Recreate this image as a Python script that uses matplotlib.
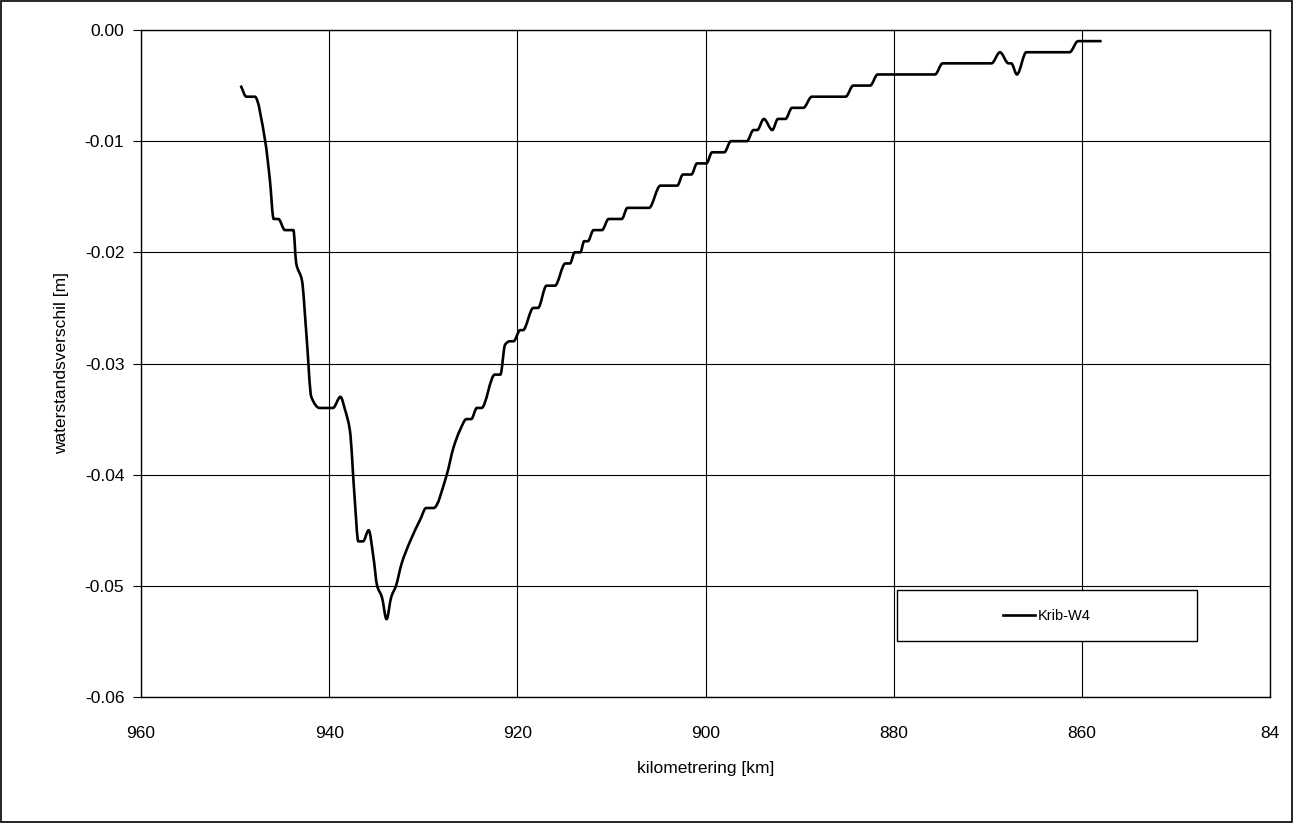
import matplotlib
matplotlib.use("Agg")
import matplotlib.pyplot as plt
import numpy as np
from matplotlib.lines import Line2D
from matplotlib.patches import Rectangle, PathPatch
from matplotlib.path import Path

plt.rcParams['font.family'] = ['Liberation Sans', 'DejaVu Sans']
plt.rcParams['axes.unicode_minus'] = False

# water level difference along the river (km, m)
km = [949.4, 948.8, 947.9, 946.8, 946.3, 945.9, 945.4, 944.7, 943.8, 943.5,
      942.9, 942.4, 941.9, 941.0, 939.6, 938.8, 938.3, 937.8, 937.3, 936.9,
      936.4, 935.8, 935.3, 934.9, 934.4, 933.9, 933.4, 932.9, 932.3, 931.4,
      930.3, 929.7, 928.9, 927.5, 926.8, 926.1, 925.4, 924.9, 924.3, 923.8,
      922.4, 921.8, 921.3, 920.8, 920.4, 919.7, 919.4, 918.3, 917.8, 916.9,
      916.0, 914.9, 914.4, 913.9, 913.3, 912.9, 912.5, 911.9, 911.0, 910.3,
      908.9, 908.3, 906.0, 904.8, 903.0, 902.4, 901.5, 900.9, 899.9, 899.3,
      898.0, 897.3, 895.6, 894.9, 894.5, 893.8, 892.9, 892.3, 891.5, 890.8,
      889.6, 888.7, 885.1, 884.3, 882.5, 881.7, 875.6, 874.8, 869.6, 868.7,
      867.8, 867.5, 866.9, 865.9, 861.3, 860.4, 857.9]
dh = [-0.005, -0.006, -0.006, -0.010, -0.0135, -0.017, -0.017, -0.018, -0.018, -0.021,
      -0.0225, -0.0276, -0.033, -0.034, -0.034, -0.033, -0.0342, -0.036, -0.042, -0.046,
      -0.046, -0.045, -0.0474, -0.050, -0.051, -0.053, -0.051, -0.050, -0.048, -0.046,
      -0.044, -0.043, -0.043, -0.040, -0.0376, -0.036, -0.035, -0.035, -0.034, -0.034,
      -0.031, -0.031, -0.0283, -0.028, -0.028, -0.027, -0.027, -0.025, -0.025, -0.023,
      -0.023, -0.021, -0.021, -0.020, -0.020, -0.019, -0.019, -0.018, -0.018, -0.017,
      -0.017, -0.016, -0.016, -0.014, -0.014, -0.013, -0.013, -0.012, -0.012, -0.011,
      -0.011, -0.010, -0.010, -0.009, -0.009, -0.008, -0.009, -0.008, -0.008, -0.007,
      -0.007, -0.006, -0.006, -0.005, -0.005, -0.004, -0.004, -0.003, -0.003, -0.002,
      -0.003, -0.003, -0.004, -0.002, -0.002, -0.001, -0.001]
series_name = 'Krib-W4'

xticks = [960, 940, 920, 900, 880, 860, 840]
xticklabels = ['960', '940', '920', '900', '880', '860', '84']
yticks = [-0.06, -0.05, -0.04, -0.03, -0.02, -0.01, 0.00]


def smooth_path(x, y):
    # monotone cubic (Fritsch-Carlson slopes) drawn as bezier segments,
    # keeps the flat stretches flat
    x = np.asarray(x, float)
    y = np.asarray(y, float)
    h = np.diff(x)
    d = np.diff(y) / h
    m = np.zeros_like(y)
    m[0], m[-1] = d[0], d[-1]
    for k in range(1, len(y) - 1):
        if d[k - 1] * d[k] > 0:
            w1 = 2 * h[k] + h[k - 1]
            w2 = h[k] + 2 * h[k - 1]
            m[k] = (w1 + w2) / (w1 / d[k - 1] + w2 / d[k])
    verts = [(x[0], y[0])]
    codes = [Path.MOVETO]
    for i in range(len(x) - 1):
        verts += [(x[i] + h[i] / 3, y[i] + m[i] * h[i] / 3),
                  (x[i + 1] - h[i] / 3, y[i + 1] - m[i + 1] * h[i] / 3),
                  (x[i + 1], y[i + 1])]
        codes += [Path.CURVE4] * 3
    return Path(verts, codes)


fig = plt.figure(figsize=(12.93, 8.23), dpi=100)
ax = fig.add_axes([141 / 1293, 126 / 823, 1129 / 1293, 667 / 823])

ax.add_patch(PathPatch(smooth_path(km, dh), facecolor='none', edgecolor='black',
                       lw=1.9, joinstyle='round', zorder=3))

ax.set_xlim(960, 840)
ax.set_ylim(-0.06, 0.0)
ax.set_xticks(xticks)
ax.set_xticklabels(xticklabels)
ax.set_yticks(yticks)
ax.set_yticklabels([f'{v:.2f}' for v in yticks])
ax.grid(True, color='black', lw=0.8)
ax.set_axisbelow(True)
for s in ax.spines.values():
    s.set_linewidth(1.0)
ax.tick_params(axis='y', direction='out', length=6, width=0.8, labelsize=12.5, pad=6)
ax.tick_params(axis='x', length=0, labelsize=12.5, pad=21)

ax.set_xlabel('kilometrering [km]', fontsize=12.5, labelpad=14)
ax.set_ylabel('waterstandsverschil [m]', fontsize=12.5, labelpad=11)

# legend box
ax.add_patch(Rectangle((0.670, 0.084), 0.265, 0.076, transform=ax.transAxes,
                       facecolor='white', edgecolor='black', lw=1.0, zorder=4))
ax.legend(handles=[Line2D([], [], color='black', lw=1.9)], labels=[series_name],
          loc='center', bbox_to_anchor=(0.8025, 0.122), frameon=False,
          fontsize=10.5, handlelength=2.2, handletextpad=0.2)

# outer frame
fig.add_artist(Rectangle((0.0008, 0.0012), 0.9984, 0.9976, transform=fig.transFigure,
                         fill=False, edgecolor='black', lw=1.2))

fig.savefig('out.png', dpi=100)
